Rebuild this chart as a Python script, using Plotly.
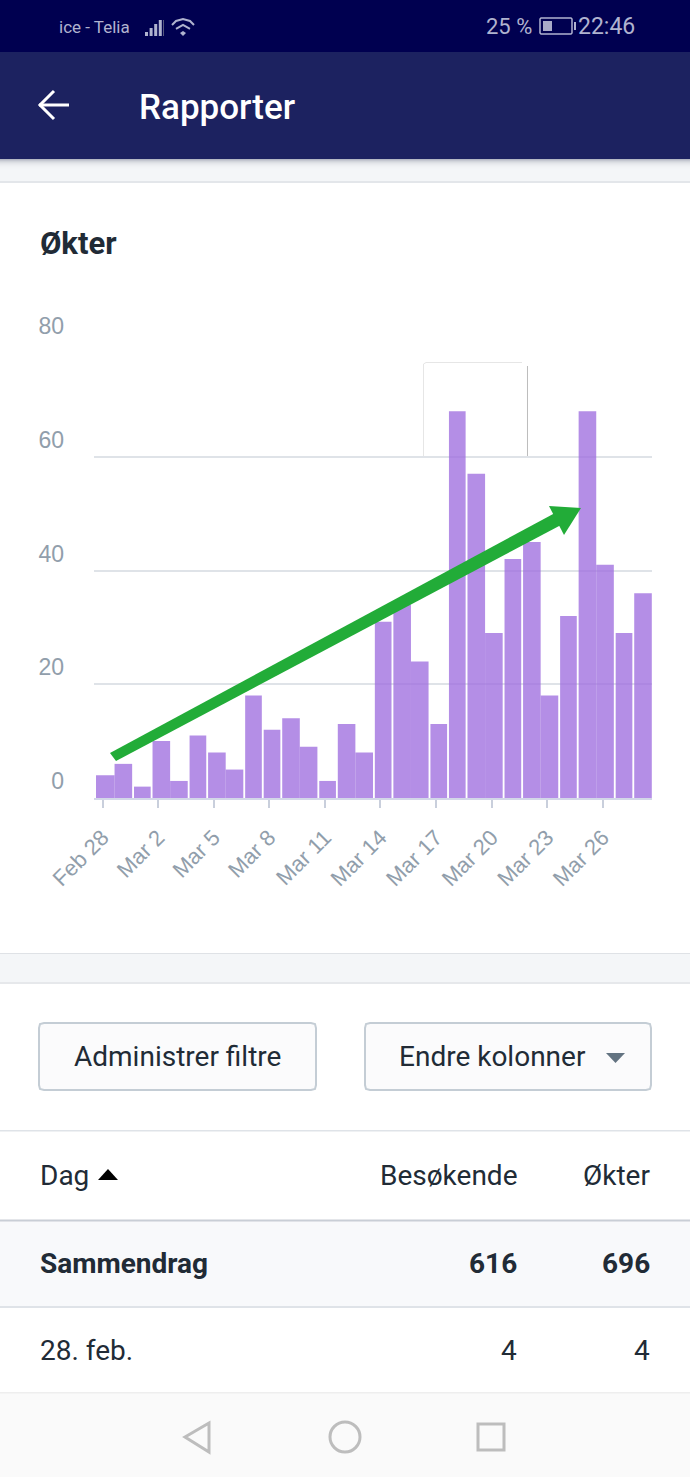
import plotly.graph_objects as go

W, H = 690, 1477

days = ["Feb 28", "Feb 29", "Mar 1", "Mar 2", "Mar 3", "Mar 4", "Mar 5", "Mar 6", "Mar 7", "Mar 8",
        "Mar 9", "Mar 10", "Mar 11", "Mar 12", "Mar 13", "Mar 14", "Mar 15", "Mar 16", "Mar 17", "Mar 18",
        "Mar 19", "Mar 20", "Mar 21", "Mar 22", "Mar 23", "Mar 24", "Mar 25", "Mar 26", "Mar 27", "Mar 28"]
sessions = [4, 6, 2, 10, 3, 11, 8, 5, 18, 12, 14, 9, 3, 13, 8, 31, 34, 24, 13, 68, 57, 29, 42, 45, 18, 32, 68, 41, 29, 36]
x_ticks = ["Feb 28", "Mar 2", "Mar 5", "Mar 8", "Mar 11", "Mar 14", "Mar 17", "Mar 20", "Mar 23", "Mar 26"]
y_ticks = [0, 20, 40, 60, 80]

# bars that touch their right neighbour in the screenshot
touching = {0, 3, 6, 10, 13, 16, 20, 23, 26}
GAP = 0.05
SHIFT = 0.35  # bars start a little left of the tick


def px(x):
    return x / W


def py(y):
    return 1 - y / H


def path(points, close=True):
    d = "M" + " L".join(f"{px(x):.5f},{py(y):.5f}" for x, y in points)
    return d + (" Z" if close else "")


def rect(x0, y0, x1, y1, fill, layer="below"):
    return dict(type="rect", xref="paper", yref="paper", x0=px(x0), x1=px(x1), y0=py(y0), y1=py(y1),
                fillcolor=fill, line_width=0, layer=layer)


def poly(points, fill=None, line=None, width=0, close=True, layer="below"):
    return dict(type="path", xref="paper", yref="paper", path=path(points, close), layer=layer,
                fillcolor=fill if fill else "rgba(0,0,0,0)",
                line=dict(color=line if line else "rgba(0,0,0,0)", width=width))


def text(x, y, s, size, color, anchor="left", font="Roboto", weight=400):
    return dict(x=px(x), y=py(y), xref="paper", yref="paper", text=s, showarrow=False, xanchor=anchor,
                yanchor="middle", font=dict(family=font, size=size, color=color, weight=weight),
                borderpad=0)


def button(x0, y0, x1, y1):
    r = 5
    return poly([(x0 + r, y0), (x1 - r, y0), (x1 - 1, y0 + 1), (x1, y0 + r), (x1, y1 - r), (x1 - 1, y1 - 1),
                 (x1 - r, y1), (x0 + r, y1), (x0 + 1, y1 - 1), (x0, y1 - r), (x0, y0 + r), (x0 + 1, y0 + 1)],
                fill="#fbfbfc", line="#c4cdd5", width=2)


shapes = [
    rect(0, 0, W, 52, "#000050"),
    rect(0, 52, W, 159, "#1c2260"),
    rect(0, 170, W, 182, "#f4f6f8"),
    rect(0, 953, W, 983, "#f4f6f8"),
    rect(0, 181, W, 183, "#e3e6ea"),
    rect(0, 953, W, 954, "#dfe2e6"),
    rect(0, 982, W, 984, "#e6e8eb"),
    rect(0, 1130, W, 1131.5, "#dfe3e8"),
    rect(0, 1220, W, 1306, "#f8f9fb"),
    rect(0, 1219.5, W, 1221.5, "#c9ced6"),
    rect(0, 1306, W, 1308, "#dfe3e8"),
    rect(0, 1392, W, 1477, "#fafafa"),
    rect(0, 1392, W, 1393.5, "#eeeeee"),
]

# header shadow
shadow = ["#b4b8c4", "#c4c7d0", "#d2d5db", "#dcdfe3", "#e4e6ea", "#e9ebee", "#edeff2", "#f0f2f4", "#f2f4f6", "#f3f5f7", "#f4f6f8"]
for i, c in enumerate(shadow):
    shapes.append(rect(0, 159 + i, W, 160 + i, c))

# status bar icons
for i, h in enumerate([4, 8, 12, 16]):
    shapes.append(rect(145 + i * 4.6, 36 - h, 148 + i * 4.6, 36, "#b0b3cf"))
shapes.append(rect(163, 20, 164, 36, "#55587f"))
shapes.append(poly([(172, 25), (176, 21), (183, 19), (190, 21), (194, 25)], line="#b0b3cf", width=2, close=False))
shapes.append(poly([(176, 29), (183, 25), (190, 29)], line="#b0b3cf", width=2, close=False))
shapes.append(poly([(180, 33), (183, 31), (186, 33), (183, 36)], fill="#b0b3cf"))
shapes.append(poly([(541, 18), (571, 18), (572, 19), (572, 33), (571, 34), (541, 34), (540, 33), (540, 19)],
                   line="#b0b3cf", width=1.5))
shapes.append(rect(543, 21, 552, 31, "#a9abc8"))
shapes.append(rect(574, 22, 576, 30, "#b0b3cf"))

# back arrow
shapes.append(poly([(39, 105), (69, 105)], line="#ffffff", width=3, close=False))
shapes.append(poly([(54, 91), (40, 105), (54, 119)], line="#ffffff", width=3, close=False))

# stray box left in the screenshot behind the chart
shapes.append(poly([(423.5, 457), (423.5, 364), (426, 362.5), (522, 362.5)], line="#e6e6e6", width=1, close=False))
shapes.append(poly([(527.5, 366), (527.5, 457)], line="#bdbdbd", width=1, close=False))

# buttons, sort markers
shapes.append(button(39, 1023, 316, 1090))
shapes.append(button(365, 1023, 651, 1090))
shapes.append(poly([(606, 1053), (625, 1053), (615.5, 1063)], fill="#637381"))
shapes.append(poly([(98, 1180), (118, 1180), (108, 1169)], fill="#000000"))

# nav bar
shapes.append(poly([(209, 1423), (185, 1437), (209, 1452)], line="#bdbdbd", width=3))
shapes.append(dict(type="circle", xref="paper", yref="paper", x0=px(330), x1=px(360), y0=py(1452), y1=py(1422),
                   line=dict(color="#bdbdbd", width=3), layer="below"))
shapes.append(poly([(478, 1424), (504, 1424), (504, 1450), (478, 1450)], line="#bdbdbd", width=3))

# green arrow on top of the bars
GREEN = "#22ac38"
shapes.append(poly([(110, 753), (555, 513), (561, 525), (116, 761)], fill=GREEN, layer="above"))
shapes.append(poly([(549, 506), (581, 508), (564, 535)], fill=GREEN, layer="above"))

annotations = [
    text(58, 27, "ice - Telia", 17, "#b0b3cf"),
    text(533, 27, "25 %", 22, "#b0b3cf", anchor="right"),
    text(636, 27, "22:46", 23, "#b0b3cf", anchor="right"),
    text(138, 107, "Rapporter", 35, "#ffffff", weight=500),
    text(39, 243, "Økter", 31, "#212b36", weight=700),
    text(177.5, 1056, "Administrer filtre", 28, "#212b36", anchor="center"),
    text(398, 1056, "Endre kolonner", 28, "#212b36"),
    text(39, 1175, "Dag", 28, "#212b36"),
    text(518, 1175, "Besøkende", 28, "#212b36", anchor="right"),
    text(651, 1175, "Økter", 28, "#212b36", anchor="right"),
    text(39, 1263, "Sammendrag", 28, "#212b36", weight=700),
    text(518, 1263, "616", 28, "#212b36", anchor="right", weight=700),
    text(651, 1263, "696", 28, "#212b36", anchor="right", weight=700),
    text(39, 1350, "28. feb.", 28, "#212b36"),
    text(518, 1350, "4", 28, "#212b36", anchor="right"),
    text(651, 1350, "4", 28, "#212b36", anchor="right"),
]

offsets = []
widths = []
for i in range(len(days)):
    left = -SHIFT + (0 if (i - 1) in touching or i == 0 else GAP)
    right = 1 - SHIFT - (0 if i in touching or i == len(days) - 1 else GAP)
    offsets.append(left)
    widths.append(right - left)

fig = go.Figure()
fig.add_trace(go.Bar(x=days, y=sessions, offset=offsets, width=widths,
                     marker=dict(color="rgba(156,106,222,0.76)", line_width=0), hoverinfo="skip"))

fig.update_layout(
    width=W, height=H, margin=dict(l=0, r=0, t=0, b=0), paper_bgcolor="#ffffff", plot_bgcolor="rgba(0,0,0,0)",
    showlegend=False, shapes=shapes, annotations=annotations,
    font=dict(family="Liberation Sans", color="#919eab"),
)
fig.update_xaxes(
    automargin=False, domain=[px(94), px(652)], range=[-0.459, 29.66], type="category",
    categoryorder="array", categoryarray=days,
    tickmode="array", tickvals=x_ticks, ticktext=x_ticks, tickangle=-45,
    ticks="outside", ticklen=8, tickwidth=2, tickcolor="#c9cfdc", showline=True, linecolor="#d3d7e8", linewidth=2,
    showgrid=False, tickfont=dict(size=22, color="#919eab"), ticklabelstandoff=8,
)
fig.update_yaxes(
    automargin=False, domain=[py(798), py(343)], range=[0, 80], tickmode="array", tickvals=y_ticks, ticks="",
    showgrid=True, gridcolor="#dfe3e8", gridwidth=1.5, zeroline=False, showline=False,
    tickfont=dict(size=23, color="#919eab"), ticklabelstandoff=29, ticklabelshift=-17,
)

fig.write_html("out.html", config=dict(displayModeBar=False),
               post_script="document.body.style.margin='0';document.documentElement.style.overflow='hidden';")
